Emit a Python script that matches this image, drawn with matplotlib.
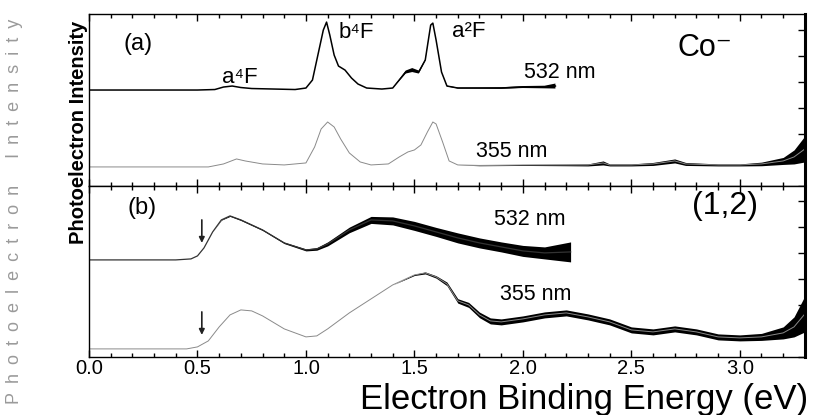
import numpy as np
import matplotlib
matplotlib.use('Agg')
import matplotlib.pyplot as plt
from matplotlib.ticker import MultipleLocator

# --- panel (a): Co- spectra, heights in arbitrary units above each baseline
ea_532 = [0.00, 0.50, 0.58, 0.62, 0.66, 0.70, 0.75, 0.85, 0.95, 1.00, 1.03, 1.06, 1.08, 1.095,
          1.11, 1.13, 1.15, 1.18, 1.21, 1.24, 1.28, 1.35, 1.40, 1.43, 1.46, 1.49, 1.52, 1.55,
          1.575, 1.585, 1.60, 1.625, 1.65, 1.70, 1.80, 1.90, 2.00, 2.10, 2.15]
ia_532 = [0, 0, 0.5, 3, 4, 2.5, 1.5, 1, 0.5, 2, 10, 40, 60, 68,
          55, 35, 24, 20, 12, 6, 2, 1, 2, 10, 18, 20, 18, 30,
          65, 67, 50, 18, 4, 2, 2, 2, 3, 3, 4]
na_532 = [0, 0, 0, 0, 0, 0, 0, 0, 0, 0, 0, 0, 0, 0,
          0, 0, 0, 0, 0, 0, 0, 0, 0, 0.8, 1.5, 2, 1.5, 0.8,
          0, 0, 0, 0, 0.4, 0.5, 0.6, 0.8, 1, 1.3, 2.5]

ea_355 = [0.00, 0.55, 0.62, 0.68, 0.72, 0.80, 0.90, 1.00, 1.04, 1.07, 1.10, 1.13, 1.16, 1.20,
          1.25, 1.30, 1.38, 1.43, 1.47, 1.50, 1.53, 1.56, 1.585, 1.60, 1.63, 1.66, 1.70, 1.80,
          2.00, 2.20, 2.30, 2.37, 2.40, 2.50, 2.60, 2.70, 2.75, 2.90, 3.00, 3.10, 3.20, 3.25, 3.30]
ia_355 = [0, 0, 3, 8, 6, 3, 2, 4, 20, 38, 45, 40, 28, 14,
          5, 2, 3, 10, 15, 17, 22, 35, 45, 43, 25, 6, 2, 1.5,
          2, 2, 2, 4, 2, 2, 3, 6, 3, 2, 2, 3, 6, 10, 18]
na_355 = [0, 0, 0, 0, 0, 0, 0, 0, 0, 0, 0, 0, 0, 0,
          0, 0, 0, 0, 0, 0, 0, 0, 0, 0, 0, 0, 0, 0.3,
          0.5, 0.8, 1, 2, 1, 1, 1.5, 2, 1.5, 1, 1, 1.8, 3.5, 7, 13]

# --- panel (b): (1,2) cluster spectra
eb_532 = [0.00, 0.40, 0.47, 0.50, 0.53, 0.57, 0.61, 0.65, 0.70, 0.80, 0.90, 1.00, 1.05, 1.10,
          1.20, 1.30, 1.40, 1.50, 1.60, 1.70, 1.80, 1.90, 2.00, 2.10, 2.22]
ib_532 = [0, 0, 1, 4, 12, 28, 40, 44, 40, 30, 17, 10, 11, 16,
          30, 40, 39, 34, 28, 22, 17, 13, 9, 7, 8]
nb_532 = [0, 0, 0, 0, 0, 0, 0.3, 0.5, 0.6, 0.6, 0.7, 1, 1.3, 2,
          2.8, 3.5, 4, 4.5, 4.5, 5, 5, 5, 5.5, 6, 10]

eb_355 = [0.00, 0.45, 0.50, 0.55, 0.60, 0.65, 0.70, 0.75, 0.80, 0.90, 1.00, 1.05, 1.10, 1.20,
          1.30, 1.40, 1.50, 1.55, 1.60, 1.65, 1.70, 1.75, 1.80, 1.85, 1.90, 2.00, 2.05, 2.10,
          2.20, 2.30, 2.40, 2.50, 2.60, 2.70, 2.80, 2.90, 3.00, 3.10, 3.20, 3.25, 3.30]
ib_355 = [0, 0, 2, 8, 22, 34, 39, 38, 33, 20, 12, 13, 20, 36,
          50, 64, 74, 76, 72, 65, 48, 44, 34, 28, 27, 30, 32, 34,
          36, 32, 27, 19, 17, 20, 17, 12, 11, 12, 16, 22, 35]
nb_355 = [0, 0, 0, 0, 0, 0, 0, 0, 0, 0, 0, 0, 0, 0,
          0, 0, 0.6, 1, 1.2, 1.8, 2.2, 2.5, 2.8, 3, 3, 3, 3, 3,
          3, 3, 3, 3, 3, 3, 3, 3, 3, 3.5, 6, 10, 18]

# baselines (offsets) of each trace inside its panel
base_a = {'532': 96, '355': 19}
base_b = {'532': 97, '355': 8}

FONT = ['Liberation Sans', 'DejaVu Sans']
plt.rcParams['font.family'] = FONT


def draw_trace(ax, e, i, n, base, color, lw):
    e = np.array(e)
    y = np.array(i) + base
    n = np.array(n)
    ax.fill_between(e, y - n, y + n, color='black', lw=0, where=n > 0, interpolate=True)
    ax.plot(e, y, color=color, lw=lw)


def style_axis(ax):
    ax.set_xlim(0, 3.3)
    ax.xaxis.set_major_locator(MultipleLocator(0.5))
    ax.xaxis.set_minor_locator(MultipleLocator(0.1))
    ax.yaxis.set_major_locator(MultipleLocator(26))
    ax.tick_params(which='both', direction='in', top=True, right=True, left=False,
                   labelleft=False, width=1.0)
    ax.tick_params(which='major', length=5)
    ax.tick_params(which='minor', length=3)
    for s in ax.spines.values():
        s.set_linewidth(1.0)
    ax.spines['right'].set_linewidth(2.2)


fig = plt.figure(figsize=(8.13, 4.15), dpi=100)
ax1 = fig.add_axes([0.1095, 0.552, 0.8805, 0.414])
ax2 = fig.add_axes([0.1095, 0.140, 0.8805, 0.412])

# panel (a)
draw_trace(ax1, ea_532, ia_532, na_532, base_a['532'], 'black', 1.1)
draw_trace(ax1, ea_355, ia_355, na_355, base_a['355'], '#8a8a8a', 0.7)
ax1.set_ylim(0, 172)
style_axis(ax1)
ax1.tick_params(labelbottom=False)

ax1.text(0.226, 142, '(a)', fontsize=17, ha='center', va='center')
ax1.text(0.696, 109, 'a⁴F', fontsize=16, ha='center', va='center')
ax1.text(1.23, 154, 'b⁴F', fontsize=16, ha='center', va='center')
ax1.text(1.75, 155, 'a²F', fontsize=16, ha='center', va='center')
ax1.text(2.84, 138, 'Co⁻', fontsize=22, ha='center', va='center')
ax1.text(2.17, 114, '532 nm', fontsize=15.5, ha='center', va='center')
ax1.text(1.95, 34, '355 nm', fontsize=15.5, ha='center', va='center')

# panel (b)
draw_trace(ax2, eb_532, ib_532, nb_532, base_b['532'], '#333333', 0.9)
draw_trace(ax2, eb_355, ib_355, nb_355, base_b['355'], '#8a8a8a', 0.7)
ax2.set_ylim(0, 171)
style_axis(ax2)

ax2.text(0.244, 149, '(b)', fontsize=17, ha='center', va='center')
ax2.text(2.03, 137, '532 nm', fontsize=15.5, ha='center', va='center')
ax2.text(2.93, 151, '(1,2)', fontsize=23, ha='center', va='center')
ax2.text(2.06, 62, '355 nm', fontsize=15.5, ha='center', va='center')

for y0, y1 in [(137, 114), (45, 22)]:
    ax2.annotate('', xy=(0.52, y1), xytext=(0.52, y0),
                 arrowprops=dict(arrowstyle='-|>', color='#222222', lw=1.2,
                                 mutation_scale=8, shrinkA=0, shrinkB=0))

ax2.set_xticks([0.0, 0.5, 1.0, 1.5, 2.0, 2.5, 3.0])
ax2.set_xticklabels(['0.0', '0.5', '1.0', '1.5', '2.0', '2.5', '3.0'], fontsize=14.5)
ax2.tick_params(axis='x', pad=1.5)

fig.text(0.994, 0.0145, 'Electron Binding Energy (eV)', fontsize=25,
         ha='right', va='baseline')

# y labels: the faint spaced one and the dark overprinted one
sp = '\u2002'
ylab = sp.join('Photoelectron') + sp * 3 + sp.join('Intensity')
fig.text(0.018, 0.49, ylab, rotation=90, color='#9a9a9a', fontsize=13,
         ha='center', va='center')
fig.text(0.096, 0.682, 'Photoelectron Intensity', rotation=90, color='black',
         fontsize=14.5, fontweight='bold', ha='center', va='center')

fig.savefig('out.png', dpi=100)
